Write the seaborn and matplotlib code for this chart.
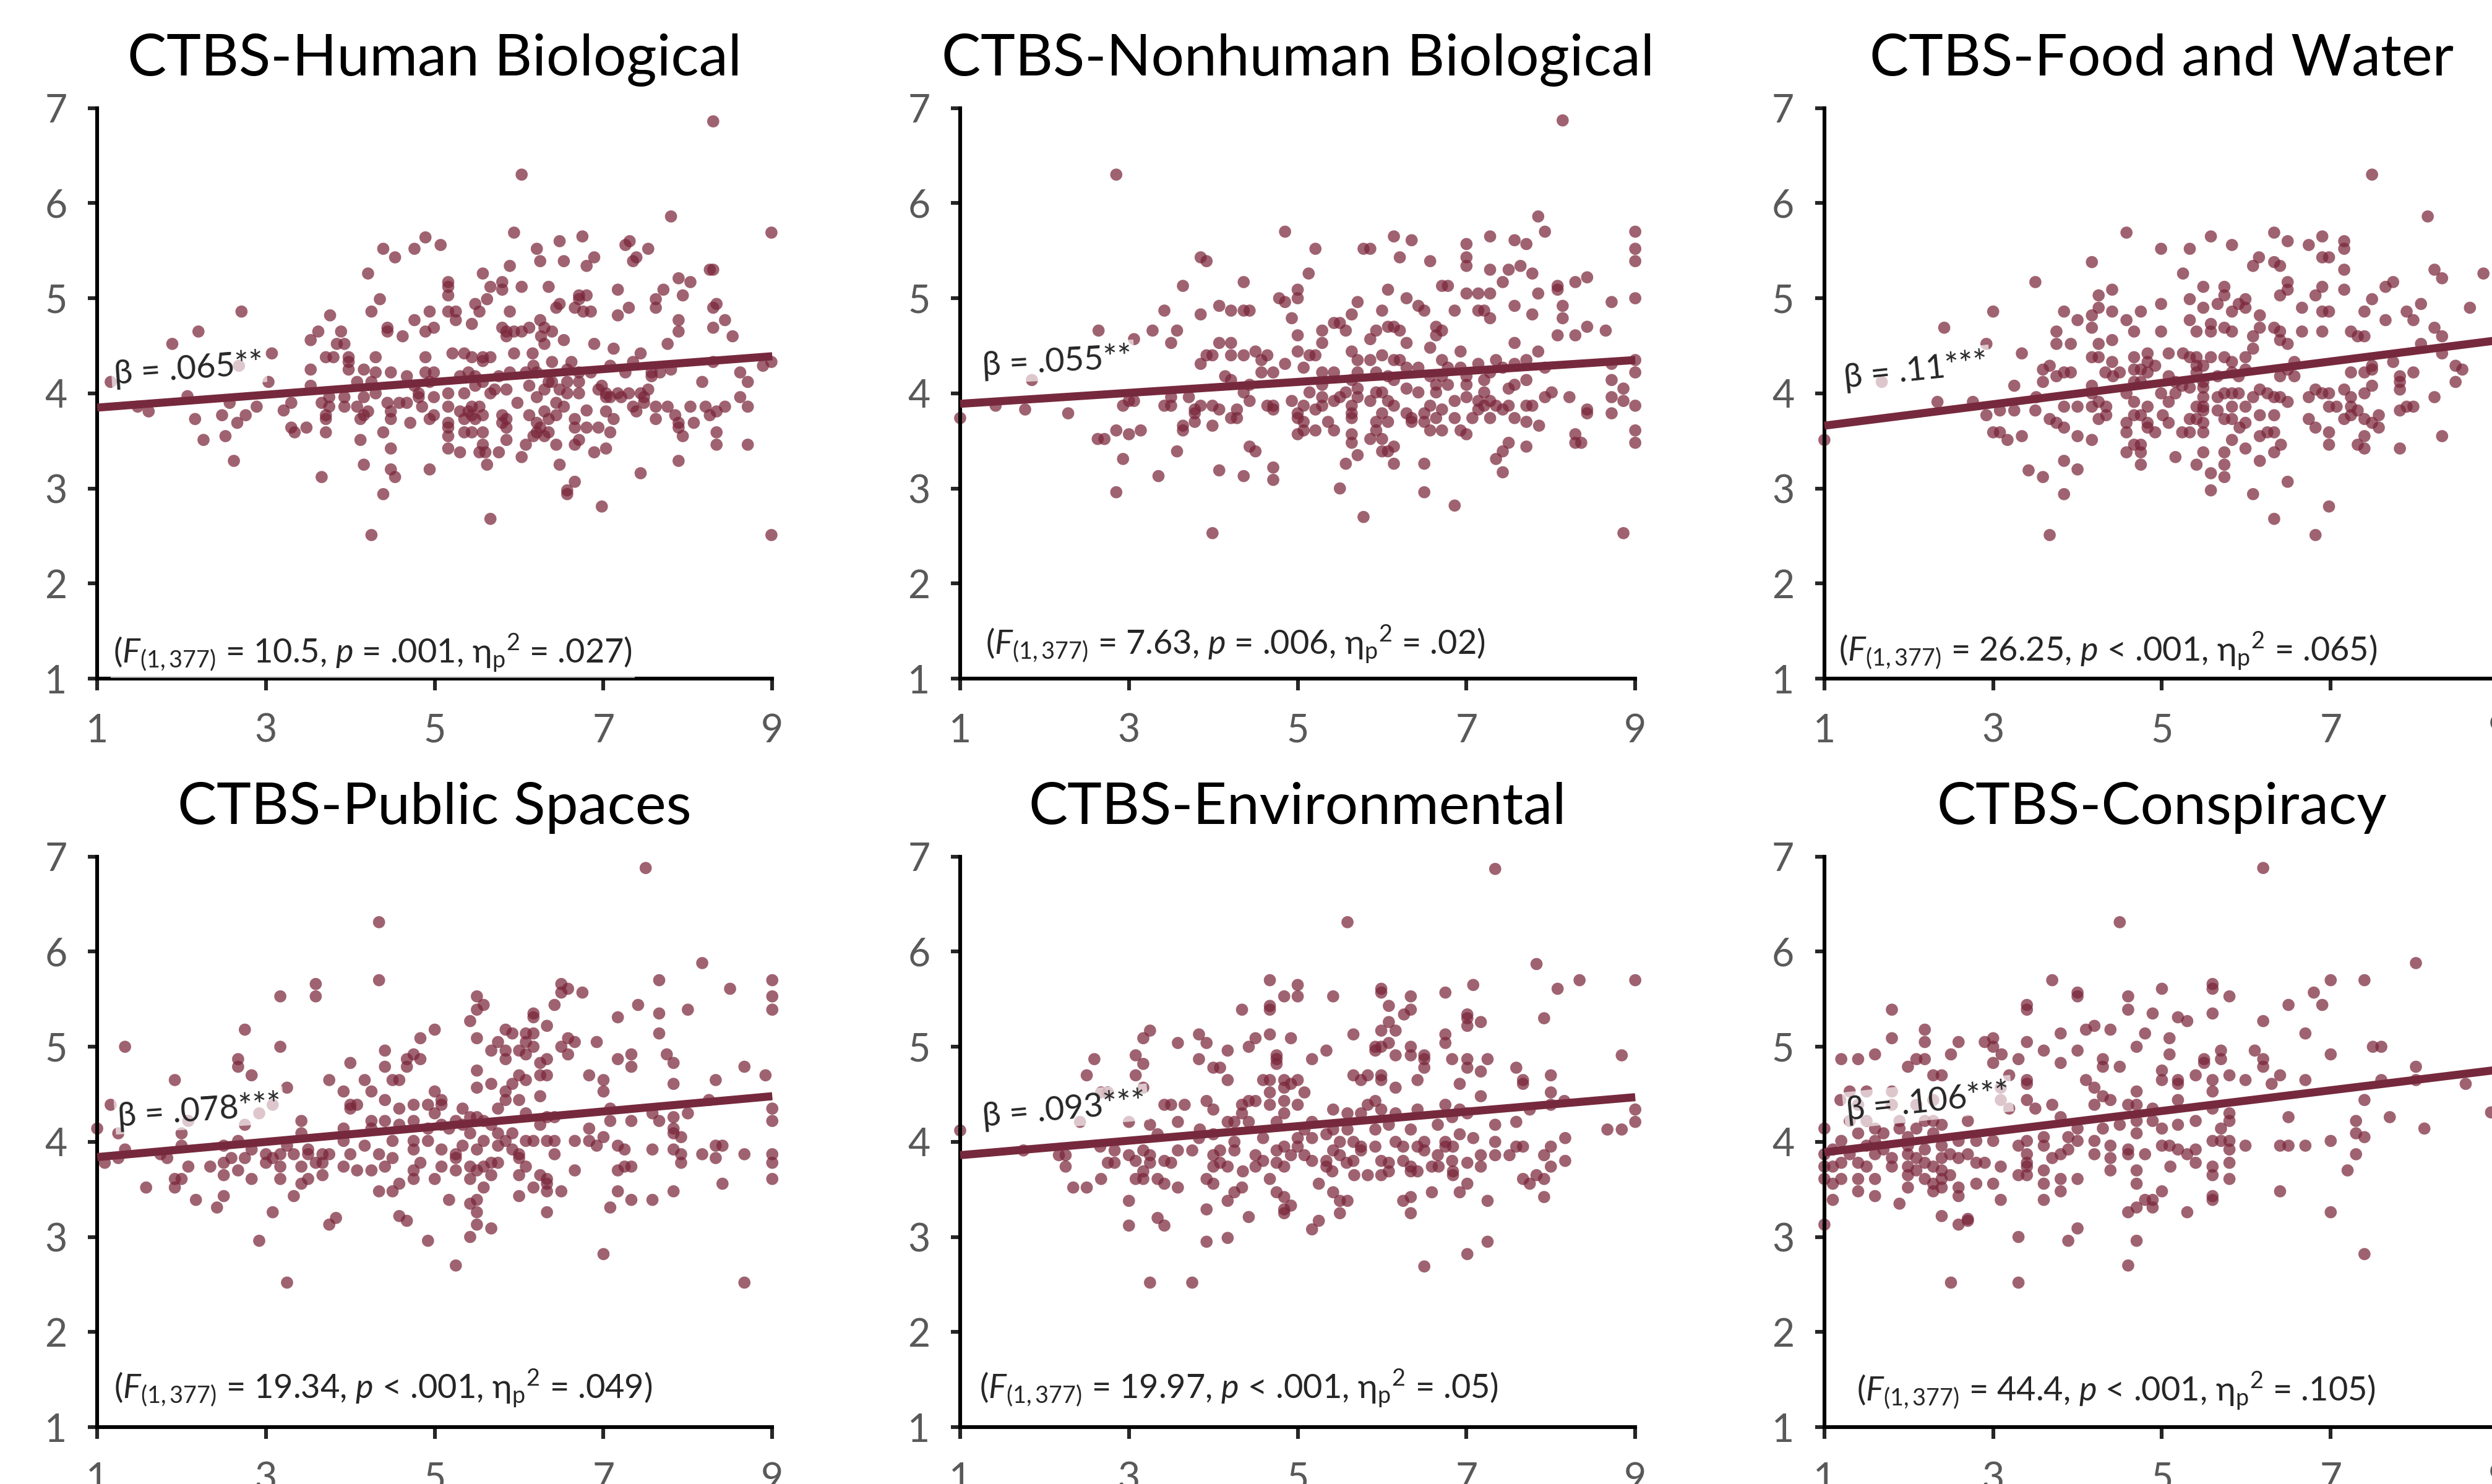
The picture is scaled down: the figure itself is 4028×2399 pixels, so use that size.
import pandas as pd
import numpy as np
import matplotlib.pyplot as plt
import seaborn as sns

# titles, annotations and fitted lines (y at x=1 and x=9)
titles = ["CTBS-Human Biological", "CTBS-Nonhuman Biological", "CTBS-Food and Water",
          "CTBS-Public Spaces", "CTBS-Environmental", "CTBS-Conspiracy"]
betas = ["β = .065**", "β = .055**", "β = .11***", "β = .078***", "β = .093***", "β = .106***"]
stats = [
    r"($F_{\mathregular{(1,377)}}$ = 10.5, $p$ = .001, η$_\mathregular{p}$$^\mathregular{2}$ = .027)",
    r"($F_{\mathregular{(1,377)}}$ = 7.63, $p$ = .006, η$_\mathregular{p}$$^\mathregular{2}$ = .02)",
    r"($F_{\mathregular{(1,377)}}$ = 26.25, $p$ < .001, η$_\mathregular{p}$$^\mathregular{2}$ = .065)",
    r"($F_{\mathregular{(1,377)}}$ = 19.34, $p$ < .001, η$_\mathregular{p}$$^\mathregular{2}$ = .049)",
    r"($F_{\mathregular{(1,377)}}$ = 19.97, $p$ < .001, η$_\mathregular{p}$$^\mathregular{2}$ = .05)",
    r"($F_{\mathregular{(1,377)}}$ = 44.4, $p$ < .001, η$_\mathregular{p}$$^\mathregular{2}$ = .105)",
]
line_y1 = [3.85, 3.89, 3.66, 3.84, 3.86, 3.89]
line_y9 = [4.39, 4.35, 4.56, 4.48, 4.47, 4.76]

# scatter points (x, y)
human_bio = [
    (8.30, 6.86), (6.03, 6.30), (7.80, 5.86), (8.99, 5.69), (5.94, 5.69), (4.89, 5.64), (5.07, 5.56),
    (4.76, 5.52), (4.39, 5.52), (4.53, 5.43), (6.48, 5.60), (6.75, 5.65), (6.21, 5.52), (6.25, 5.39),
    (6.53, 5.39), (6.89, 5.43), (6.80, 5.34), (5.89, 5.34), (7.26, 5.56), (7.31, 5.60), (7.39, 5.43),
    (7.35, 5.39), (7.53, 5.52), (8.26, 5.30), (8.30, 5.30), (4.21, 5.26), (5.57, 5.26), (7.89, 5.21),
    (8.03, 5.17), (5.16, 5.17), (5.16, 5.12), (5.16, 5.03), (5.80, 5.17), (5.80, 5.09), (5.66, 5.12),
    (6.03, 5.12), (6.35, 5.12), (7.17, 5.09), (7.71, 5.09), (7.94, 5.03), (7.62, 4.99), (6.71, 5.03),
    (6.80, 5.03), (6.71, 4.99), (4.35, 4.99), (5.62, 4.99), (5.48, 4.94), (6.48, 4.94), (6.44, 4.90),
    (6.66, 4.90), (7.30, 4.90), (7.62, 4.90), (8.34, 4.94), (8.30, 4.90), (2.71, 4.86), (4.25, 4.86),
    (4.94, 4.86), (5.16, 4.86), (5.25, 4.86), (5.53, 4.86), (5.89, 4.86), (6.76, 4.86), (6.85, 4.86),
    (7.17, 4.82), (3.76, 4.82), (4.76, 4.77), (5.25, 4.77), (6.25, 4.77), (7.89, 4.77), (8.44, 4.77),
    (5.44, 4.73), (5.80, 4.69), (6.12, 4.69), (8.30, 4.69), (4.44, 4.69), (4.99, 4.69), (2.20, 4.65),
    (3.62, 4.65), (3.89, 4.65), (4.44, 4.65), (4.89, 4.65), (5.85, 4.65), (5.94, 4.65), (6.03, 4.65),
    (6.30, 4.69), (6.39, 4.65), (7.89, 4.65), (4.62, 4.60), (5.85, 4.60), (6.26, 4.60), (8.53, 4.60),
    (1.89, 4.52), (3.53, 4.56), (3.84, 4.52), (3.93, 4.52), (6.30, 4.52), (6.53, 4.56), (6.89, 4.52),
    (7.76, 4.52), (7.12, 4.47), (3.07, 4.42), (3.71, 4.38), (3.80, 4.38), (3.98, 4.38), (4.30, 4.38),
    (4.89, 4.38), (5.21, 4.42), (5.35, 4.42), (5.44, 4.38), (5.57, 4.38), (5.66, 4.38), (5.57, 4.34),
    (5.94, 4.42), (6.16, 4.42), (7.44, 4.42), (3.98, 4.33), (3.98, 4.25), (6.17, 4.29), (6.39, 4.33),
    (6.62, 4.33), (7.35, 4.33), (8.30, 4.33), (8.99, 4.33), (8.89, 4.29), (2.68, 4.29), (3.53, 4.25),
    (4.16, 4.25), (7.08, 4.29), (7.80, 4.25), (7.57, 4.22), (7.67, 4.22), (4.30, 4.22), (4.48, 4.22),
    (4.67, 4.18), (4.89, 4.22), (4.99, 4.22), (5.30, 4.18), (5.40, 4.22), (5.48, 4.18), (5.76, 4.18),
    (5.89, 4.22), (6.08, 4.22), (6.21, 4.22), (6.57, 4.25), (6.71, 4.22), (6.85, 4.22), (7.26, 4.22),
    (8.62, 4.22), (1.16, 4.12), (3.03, 4.12), (4.08, 4.12), (4.25, 4.12), (4.94, 4.12), (5.57, 4.12),
    (6.35, 4.12), (6.39, 4.12), (6.57, 4.12), (6.71, 4.12), (7.57, 4.18), (8.17, 4.12), (8.71, 4.12),
    (3.53, 4.08), (4.76, 4.08), (5.48, 4.08), (6.12, 4.08), (6.98, 4.08), (6.30, 4.04), (6.48, 4.04),
    (6.94, 4.04), (7.53, 4.04), (7.44, 4.00), (5.71, 4.04), (5.85, 4.04), (5.16, 4.00), (5.35, 4.00),
    (5.66, 4.00), (4.30, 4.00), (4.81, 4.00), (2.07, 3.97), (6.57, 4.00), (6.71, 4.00), (7.03, 4.00),
    (7.08, 3.96), (7.17, 4.00), (7.21, 3.96), (7.30, 4.00), (7.48, 3.96), (8.62, 3.96), (3.75, 3.96),
    (3.93, 3.96), (4.16, 3.96), (4.81, 3.96), (4.99, 3.96), (6.21, 3.96), (7.03, 3.96), (1.48, 3.86),
    (1.61, 3.81), (2.57, 3.90), (2.89, 3.86), (3.30, 3.90), (3.21, 3.82), (3.66, 3.90), (3.75, 3.86),
    (3.93, 3.86), (4.08, 3.86), (4.44, 3.90), (4.58, 3.90), (4.67, 3.90), (4.85, 3.86), (5.16, 3.86),
    (5.44, 3.86), (5.53, 3.86), (5.98, 3.90), (6.44, 3.90), (6.53, 3.86), (6.80, 3.82), (7.35, 3.86),
    (7.48, 3.90), (7.62, 3.86), (7.76, 3.86), (8.03, 3.86), (8.21, 3.86), (8.34, 3.81), (8.44, 3.86),
    (8.71, 3.86), (4.21, 3.81), (4.48, 3.81), (5.30, 3.81), (5.40, 3.81), (7.03, 3.81), (7.39, 3.81),
    (6.30, 3.81), (2.76, 3.77), (2.48, 3.77), (3.71, 3.77), (4.16, 3.77), (4.99, 3.77), (5.44, 3.77),
    (5.57, 3.77), (5.80, 3.77), (6.12, 3.77), (6.44, 3.77), (7.85, 3.77), (8.26, 3.77), (2.16, 3.73),
    (3.71, 3.73), (4.12, 3.73), (4.48, 3.73), (4.94, 3.73), (5.35, 3.73), (5.48, 3.73), (5.85, 3.73),
    (6.35, 3.73), (6.66, 3.73), (7.12, 3.73), (7.62, 3.73), (2.66, 3.69), (4.71, 3.69), (5.16, 3.69),
    (5.80, 3.69), (6.21, 3.69), (7.89, 3.69), (8.07, 3.69), (3.30, 3.64), (3.48, 3.64), (5.16, 3.64),
    (5.85, 3.64), (6.25, 3.64), (6.66, 3.64), (6.80, 3.64), (6.94, 3.64), (7.89, 3.64), (3.34, 3.59),
    (3.71, 3.59), (4.39, 3.59), (5.35, 3.59), (5.44, 3.59), (5.57, 3.59), (6.21, 3.59), (6.35, 3.59),
    (7.08, 3.59), (8.34, 3.59), (5.16, 3.55), (6.17, 3.55), (6.30, 3.55), (2.52, 3.55), (7.94, 3.55),
    (2.26, 3.51), (4.12, 3.51), (5.85, 3.51), (6.71, 3.51), (6.66, 3.46), (6.44, 3.46), (5.57, 3.46),
    (6.08, 3.46), (8.34, 3.46), (8.71, 3.46), (4.48, 3.42), (5.16, 3.42), (5.30, 3.38), (5.53, 3.38),
    (5.60, 3.38), (5.76, 3.38), (6.89, 3.38), (7.03, 3.42), (6.03, 3.33), (2.62, 3.29), (7.89, 3.29),
    (4.16, 3.25), (5.62, 3.25), (6.48, 3.25), (4.48, 3.20), (4.94, 3.20), (7.44, 3.16), (3.66, 3.12),
    (4.53, 3.12), (6.66, 3.07), (6.57, 2.98), (6.57, 2.94), (4.39, 2.94), (6.98, 2.81), (5.66, 2.68),
    (4.25, 2.51), (8.99, 2.51),
]

nonhuman_bio = [
    (8.14, 6.87), (2.85, 6.30), (7.85, 5.86), (4.85, 5.70), (9.00, 5.70), (7.93, 5.70), (6.14, 5.65),
    (7.28, 5.65), (7.57, 5.61), (6.35, 5.61), (7.00, 5.57), (7.71, 5.57), (5.78, 5.52), (5.86, 5.52),
    (5.21, 5.52), (9.00, 5.52), (3.85, 5.43), (3.92, 5.39), (6.21, 5.43), (7.00, 5.43), (7.00, 5.34),
    (6.57, 5.39), (9.00, 5.39), (7.64, 5.34), (7.28, 5.30), (7.50, 5.30), (5.13, 5.26), (7.78, 5.26),
    (7.43, 5.17), (4.36, 5.17), (8.29, 5.17), (8.43, 5.22), (3.64, 5.13), (6.71, 5.13), (6.78, 5.13),
    (8.08, 5.13), (8.08, 5.09), (5.00, 5.09), (6.07, 5.09), (7.00, 5.05), (7.14, 5.05), (7.28, 5.05),
    (7.85, 5.05), (4.78, 5.00), (5.00, 5.00), (6.29, 5.00), (9.00, 5.00), (4.85, 4.96), (8.72, 4.96),
    (5.71, 4.96), (4.07, 4.92), (6.43, 4.92), (7.57, 4.92), (8.14, 4.92), (3.42, 4.87), (4.21, 4.87),
    (4.36, 4.87), (4.43, 4.87), (6.00, 4.87), (6.50, 4.87), (6.86, 4.87), (7.14, 4.87), (7.21, 4.87),
    (3.85, 4.83), (5.64, 4.83), (7.78, 4.83), (4.93, 4.79), (7.28, 4.79), (8.14, 4.79), (5.43, 4.74),
    (5.50, 4.74), (6.07, 4.70), (6.14, 4.70), (6.64, 4.70), (8.43, 4.70), (2.64, 4.66), (3.28, 4.66),
    (3.57, 4.66), (5.29, 4.66), (5.57, 4.66), (5.93, 4.66), (6.21, 4.66), (6.71, 4.66), (8.65, 4.66),
    (6.64, 4.61), (8.08, 4.61), (8.29, 4.61), (5.00, 4.61), (5.86, 4.57), (3.06, 4.57), (4.07, 4.53),
    (4.21, 4.53), (5.29, 4.53), (3.50, 4.53), (6.29, 4.53), (7.57, 4.53), (6.57, 4.48), (4.50, 4.44),
    (5.00, 4.44), (5.64, 4.44), (6.93, 4.44), (7.85, 4.44), (3.92, 4.40), (3.99, 4.40), (4.21, 4.40),
    (4.36, 4.40), (5.14, 4.40), (5.21, 4.40), (6.00, 4.40), (4.64, 4.40), (5.71, 4.35), (5.86, 4.35),
    (6.14, 4.35), (6.21, 4.35), (6.71, 4.35), (7.14, 4.31), (7.35, 4.35), (7.57, 4.31), (7.71, 4.35),
    (8.72, 4.31), (9.00, 4.35), (3.85, 4.31), (4.57, 4.35), (4.85, 4.31), (5.07, 4.27), (6.29, 4.27),
    (6.43, 4.27), (6.78, 4.27), (6.93, 4.27), (7.28, 4.22), (7.43, 4.27), (7.93, 4.27), (9.00, 4.22),
    (4.57, 4.22), (4.71, 4.22), (5.29, 4.22), (5.43, 4.22), (5.71, 4.22), (5.93, 4.22), (6.07, 4.18),
    (6.57, 4.18), (6.71, 4.18), (7.00, 4.18), (4.14, 4.18), (7.21, 4.14), (7.71, 4.14), (8.72, 4.14),
    (1.85, 4.14), (4.21, 4.14), (5.64, 4.14), (6.14, 4.14), (6.64, 4.09), (6.78, 4.09), (7.57, 4.09),
    (4.43, 4.09), (5.29, 4.09), (6.29, 4.05), (7.00, 4.09), (8.86, 4.05), (7.50, 4.05), (5.71, 4.05),
    (5.14, 4.01), (5.57, 4.01), (5.93, 4.01), (6.00, 4.01), (6.43, 4.01), (6.64, 4.01), (7.21, 4.01),
    (8.01, 4.01), (4.36, 4.01), (7.93, 3.96), (8.22, 3.96), (8.72, 3.96), (7.00, 3.96), (3.50, 3.96),
    (3.71, 3.96), (5.29, 3.96), (5.50, 3.96), (5.71, 3.96), (3.00, 3.92), (3.06, 3.92), (4.43, 3.92),
    (4.93, 3.92), (5.43, 3.92), (5.86, 3.92), (6.07, 3.92), (6.86, 3.92), (7.14, 3.92), (7.28, 3.92),
    (8.86, 3.92), (1.42, 3.87), (2.93, 3.87), (3.42, 3.87), (3.50, 3.87), (3.85, 3.87), (3.99, 3.87),
    (4.64, 3.87), (4.71, 3.87), (5.07, 3.87), (5.29, 3.87), (5.64, 3.87), (6.14, 3.87), (6.57, 3.87),
    (7.21, 3.87), (7.35, 3.87), (7.50, 3.87), (7.78, 3.87), (7.71, 3.87), (9.00, 3.87), (1.77, 3.83),
    (3.78, 3.83), (4.07, 3.83), (4.28, 3.83), (4.71, 3.83), (5.21, 3.83), (6.71, 3.83), (7.14, 3.83),
    (7.43, 3.83), (8.43, 3.83), (2.28, 3.79), (3.78, 3.79), (5.00, 3.79), (5.64, 3.79), (6.00, 3.79),
    (6.29, 3.79), (6.50, 3.79), (8.43, 3.79), (8.72, 3.79), (1.00, 3.74), (4.21, 3.74), (4.28, 3.74),
    (5.00, 3.74), (5.64, 3.74), (6.35, 3.74), (6.64, 3.74), (6.86, 3.74), (7.07, 3.74), (7.28, 3.74),
    (7.57, 3.74), (5.07, 3.70), (5.93, 3.70), (6.07, 3.70), (6.35, 3.70), (6.50, 3.70), (7.71, 3.70),
    (3.78, 3.70), (5.36, 3.70), (3.64, 3.66), (3.99, 3.66), (7.86, 3.66), (5.43, 3.61), (5.21, 3.61),
    (5.07, 3.61), (5.93, 3.61), (6.57, 3.61), (6.71, 3.61), (6.93, 3.61), (9.00, 3.61), (2.85, 3.61),
    (3.14, 3.61), (3.64, 3.61), (3.00, 3.57), (5.00, 3.57), (5.64, 3.57), (7.00, 3.57), (8.29, 3.57),
    (2.63, 3.52), (2.71, 3.52), (6.00, 3.52), (5.86, 3.52), (7.50, 3.48), (8.29, 3.48), (8.36, 3.48),
    (9.00, 3.48), (5.64, 3.48), (4.43, 3.44), (7.71, 3.44), (4.50, 3.39), (3.57, 3.39), (6.00, 3.39),
    (6.07, 3.39), (7.43, 3.39), (6.14, 3.44), (5.71, 3.35), (2.93, 3.31), (7.35, 3.31), (5.57, 3.26),
    (6.14, 3.26), (6.50, 3.26), (4.71, 3.22), (4.07, 3.19), (7.43, 3.17), (3.35, 3.13), (4.36, 3.13),
    (4.71, 3.09), (5.50, 3.00), (2.85, 2.96), (6.50, 2.96), (6.86, 2.82), (5.78, 2.70), (3.99, 2.53),
    (8.86, 2.53),
]

food_water = [
    (7.49, 6.30), (8.15, 5.86), (4.58, 5.69), (5.58, 5.65), (6.33, 5.69), (6.90, 5.65), (7.16, 5.60),
    (6.49, 5.60), (4.99, 5.52), (5.33, 5.52), (5.83, 5.56), (6.74, 5.56), (7.16, 5.52), (6.15, 5.43),
    (6.90, 5.43), (6.98, 5.43), (4.17, 5.38), (6.33, 5.38), (6.08, 5.34), (6.40, 5.34), (7.16, 5.30),
    (8.23, 5.30), (5.25, 5.26), (8.32, 5.21), (8.81, 5.26), (3.50, 5.17), (6.49, 5.17), (7.74, 5.17),
    (7.65, 5.12), (5.49, 5.12), (5.74, 5.12), (6.90, 5.12), (4.41, 5.09), (6.49, 5.09), (7.16, 5.09),
    (4.25, 5.03), (5.74, 5.03), (6.40, 5.03), (6.82, 5.03), (5.33, 4.99), (5.99, 4.99), (7.49, 4.99),
    (4.99, 4.94), (5.66, 4.94), (5.91, 4.94), (4.25, 4.90), (5.49, 4.90), (5.99, 4.90), (6.66, 4.90),
    (8.65, 4.90), (8.07, 4.94), (3.00, 4.86), (3.84, 4.86), (4.41, 4.86), (4.75, 4.86), (5.83, 4.86),
    (6.90, 4.86), (6.98, 4.86), (7.40, 4.86), (7.90, 4.86), (4.17, 4.82), (6.16, 4.82), (4.00, 4.77),
    (4.58, 4.77), (5.33, 4.77), (7.65, 4.77), (7.98, 4.77), (5.58, 4.73), (2.42, 4.69), (4.17, 4.69),
    (5.74, 4.69), (6.33, 4.69), (6.16, 4.69), (8.23, 4.69), (3.75, 4.65), (4.67, 4.65), (4.99, 4.65),
    (5.41, 4.65), (5.58, 4.65), (5.83, 4.65), (6.40, 4.65), (6.66, 4.65), (6.90, 4.65), (7.24, 4.65),
    (6.08, 4.60), (7.32, 4.60), (7.40, 4.60), (8.32, 4.60), (4.41, 4.56), (6.40, 4.56), (2.92, 4.52),
    (3.75, 4.52), (3.92, 4.52), (4.25, 4.52), (6.49, 4.52), (8.07, 4.52), (6.08, 4.47), (3.34, 4.42),
    (4.83, 4.42), (5.08, 4.42), (5.25, 4.42), (5.33, 4.38), (5.41, 4.38), (4.17, 4.38), (4.25, 4.38),
    (4.67, 4.38), (5.58, 4.38), (5.74, 4.38), (5.99, 4.38), (8.32, 4.42), (4.83, 4.33), (5.83, 4.33),
    (6.57, 4.33), (7.74, 4.33), (3.67, 4.29), (4.41, 4.33), (4.92, 4.29), (5.41, 4.29), (5.49, 4.29),
    (7.49, 4.29), (8.48, 4.29), (3.59, 4.25), (4.67, 4.25), (4.75, 4.25), (5.99, 4.25), (6.49, 4.25),
    (7.49, 4.25), (8.56, 4.25), (3.84, 4.22), (3.92, 4.22), (4.33, 4.22), (4.50, 4.22), (4.83, 4.22),
    (5.41, 4.22), (5.83, 4.22), (7.24, 4.22), (7.40, 4.22), (7.98, 4.22), (3.75, 4.18), (4.42, 4.18),
    (5.08, 4.18), (5.66, 4.18), (5.91, 4.18), (6.40, 4.18), (6.57, 4.18), (7.82, 4.18), (3.59, 4.12),
    (4.67, 4.12), (4.75, 4.12), (5.16, 4.12), (5.49, 4.12), (7.49, 4.08), (8.48, 4.12), (7.82, 4.12),
    (3.25, 4.08), (4.17, 4.08), (5.24, 4.08), (5.33, 4.06), (5.49, 4.06), (6.16, 4.04), (7.16, 4.04),
    (7.82, 4.04), (6.82, 4.04), (4.17, 4.00), (4.58, 4.00), (4.99, 4.00), (5.16, 4.00), (5.74, 4.00),
    (5.83, 4.00), (5.91, 4.00), (6.25, 4.00), (6.90, 4.00), (6.98, 4.00), (7.40, 4.00), (3.51, 3.96),
    (7.24, 3.96), (8.23, 3.96), (6.74, 3.96), (6.08, 3.96), (5.49, 3.96), (5.66, 3.96), (6.33, 3.96),
    (6.40, 3.96), (2.34, 3.91), (2.76, 3.91), (4.25, 3.91), (4.67, 3.91), (5.08, 3.91), (6.49, 3.91),
    (3.84, 3.86), (4.00, 3.86), (4.17, 3.86), (4.34, 3.86), (4.83, 3.86), (5.41, 3.86), (5.49, 3.86),
    (5.83, 3.86), (5.99, 3.86), (6.98, 3.86), (7.07, 3.86), (7.24, 3.86), (7.90, 3.86), (7.98, 3.86),
    (3.08, 3.82), (3.25, 3.82), (3.50, 3.82), (7.82, 3.82), (7.32, 3.82), (5.49, 3.82), (5.66, 3.82),
    (2.92, 3.77), (4.34, 3.77), (4.67, 3.77), (4.75, 3.77), (5.01, 3.77), (6.16, 3.77), (6.33, 3.77),
    (7.24, 3.77), (7.57, 3.77), (4.25, 3.73), (3.67, 3.73), (5.33, 3.73), (5.41, 3.73), (5.74, 3.73),
    (5.83, 3.73), (6.74, 3.73), (7.16, 3.73), (7.40, 3.73), (4.58, 3.69), (4.83, 3.69), (5.08, 3.69),
    (5.49, 3.69), (5.99, 3.69), (7.49, 3.69), (3.75, 3.69), (3.84, 3.64), (4.83, 3.64), (5.92, 3.64),
    (6.82, 3.64), (7.57, 3.64), (3.00, 3.59), (3.08, 3.59), (4.58, 3.59), (4.92, 3.59), (5.24, 3.59),
    (5.33, 3.59), (5.49, 3.59), (6.25, 3.59), (6.33, 3.59), (6.98, 3.59), (3.34, 3.55), (4.00, 3.55),
    (6.16, 3.55), (7.40, 3.55), (8.32, 3.55), (3.17, 3.51), (4.17, 3.51), (5.83, 3.51), (4.67, 3.46),
    (4.75, 3.46), (6.41, 3.46), (6.98, 3.46), (7.32, 3.46), (7.40, 3.42), (7.82, 3.42), (5.99, 3.42),
    (4.58, 3.38), (4.75, 3.38), (5.49, 3.38), (5.74, 3.38), (6.33, 3.38), (5.16, 3.33), (3.84, 3.29),
    (6.16, 3.29), (5.41, 3.25), (5.74, 3.25), (4.75, 3.25), (3.42, 3.19), (4.00, 3.20), (5.58, 3.16),
    (3.59, 3.12), (5.74, 3.12), (6.49, 3.07), (5.58, 2.98), (3.84, 2.94), (6.08, 2.94), (6.98, 2.81),
    (6.33, 2.68), (3.67, 2.51), (6.82, 2.51), (1.00, 3.51), (1.68, 4.12), (9.00, 4.10),
]

public_spaces = [
    (7.50, 6.88), (4.34, 6.31), (8.17, 5.88), (4.34, 5.70), (7.66, 5.70), (9.00, 5.70), (3.59, 5.66),
    (6.50, 5.66), (8.50, 5.61), (6.58, 5.61), (6.75, 5.57), (6.50, 5.57), (3.17, 5.53), (3.59, 5.53),
    (5.50, 5.53), (9.00, 5.53), (7.41, 5.44), (5.58, 5.44), (6.42, 5.44), (5.50, 5.39), (8.00, 5.39),
    (9.00, 5.39), (6.17, 5.35), (6.17, 5.31), (7.66, 5.35), (7.17, 5.31), (5.42, 5.27), (6.33, 5.22),
    (5.00, 5.18), (2.75, 5.18), (5.84, 5.18), (5.92, 5.14), (6.08, 5.14), (6.17, 5.14), (7.66, 5.14),
    (4.83, 5.09), (5.50, 5.09), (6.58, 5.09), (6.08, 5.05), (5.75, 5.05), (6.66, 5.05), (6.92, 5.05),
    (1.33, 5.00), (3.17, 5.00), (6.17, 5.00), (6.50, 5.00), (4.41, 4.96), (5.67, 4.96), (5.84, 4.96),
    (6.00, 4.96), (7.75, 4.92), (6.08, 4.92), (7.33, 4.92), (6.58, 4.92), (4.75, 4.92), (4.67, 4.87),
    (4.83, 4.87), (2.67, 4.87), (5.84, 4.87), (6.33, 4.87), (7.17, 4.87), (4.00, 4.83), (6.25, 4.83),
    (7.83, 4.83), (2.67, 4.79), (4.41, 4.79), (4.67, 4.79), (7.33, 4.79), (8.67, 4.79), (5.50, 4.75),
    (2.83, 4.70), (6.00, 4.70), (6.25, 4.70), (6.33, 4.70), (6.83, 4.70), (8.92, 4.70), (1.92, 4.65),
    (3.75, 4.65), (4.17, 4.65), (4.50, 4.65), (4.58, 4.65), (6.08, 4.65), (7.00, 4.65), (8.33, 4.65),
    (7.83, 4.61), (5.67, 4.61), (5.92, 4.61), (3.25, 4.57), (3.92, 4.53), (4.25, 4.53), (5.00, 4.53),
    (5.84, 4.53), (7.00, 4.53), (6.25, 4.48), (4.41, 4.44), (5.08, 4.44), (6.00, 4.44), (5.50, 4.57),
    (1.16, 4.39), (3.08, 4.39), (4.00, 4.39), (4.08, 4.39), (4.75, 4.39), (4.92, 4.39), (5.08, 4.39),
    (5.84, 4.44), (8.25, 4.44), (4.00, 4.35), (4.58, 4.35), (5.33, 4.35), (5.75, 4.35), (9.00, 4.35),
    (7.08, 4.35), (8.00, 4.30), (7.58, 4.30), (2.92, 4.30), (5.00, 4.30), (6.08, 4.30), (6.33, 4.26),
    (6.42, 4.26), (7.83, 4.26), (5.42, 4.26), (5.50, 4.26), (4.41, 4.22), (4.25, 4.22), (4.75, 4.22),
    (5.25, 4.22), (5.58, 4.22), (7.08, 4.22), (7.33, 4.22), (7.66, 4.22), (9.00, 4.22), (3.42, 4.22),
    (2.08, 4.22), (2.75, 4.18), (6.25, 4.18), (4.58, 4.18), (5.08, 4.18), (5.33, 4.18), (5.67, 4.18),
    (1.00, 4.14), (3.92, 4.14), (4.25, 4.14), (4.92, 4.14), (5.17, 4.14), (6.83, 4.14), (7.83, 4.14),
    (2.00, 4.09), (1.25, 4.09), (3.42, 4.09), (5.42, 4.09), (5.75, 4.09), (5.92, 4.09), (7.83, 4.09),
    (7.92, 4.05), (7.00, 4.05), (4.75, 4.01), (3.92, 4.01), (4.50, 4.01), (4.92, 4.01), (5.58, 4.01),
    (5.84, 4.01), (6.08, 4.01), (6.17, 4.01), (6.33, 4.01), (6.42, 4.01), (6.66, 4.01), (6.83, 4.01),
    (2.67, 4.01), (6.92, 3.96), (7.17, 3.96), (8.33, 3.96), (8.41, 3.96), (2.00, 3.96), (2.50, 3.96),
    (3.25, 3.96), (4.17, 3.96), (5.33, 3.96), (5.75, 3.96), (1.33, 3.92), (2.83, 3.92), (3.50, 3.92),
    (4.75, 3.92), (5.08, 3.92), (5.50, 3.92), (5.92, 3.92), (7.25, 3.92), (7.58, 3.92), (7.83, 3.92),
    (1.75, 3.87), (3.00, 3.87), (3.17, 3.87), (3.33, 3.87), (3.50, 3.87), (3.67, 3.87), (3.75, 3.87),
    (4.00, 3.87), (4.34, 3.87), (5.25, 3.87), (6.00, 3.87), (6.42, 3.87), (8.17, 3.87), (8.67, 3.87),
    (9.00, 3.87), (7.92, 3.87), (1.09, 3.78), (1.25, 3.83), (1.83, 3.83), (2.59, 3.83), (2.75, 3.83),
    (3.08, 3.83), (4.50, 3.83), (5.25, 3.83), (6.00, 3.83), (8.33, 3.83), (7.33, 3.74), (7.17, 3.70),
    (7.25, 3.74), (2.50, 3.78), (3.00, 3.78), (3.59, 3.78), (3.67, 3.78), (4.83, 3.78), (5.75, 3.78),
    (5.67, 3.78), (7.92, 3.78), (9.00, 3.78), (2.08, 3.74), (2.34, 3.74), (3.17, 3.74), (3.42, 3.74),
    (3.92, 3.74), (4.41, 3.74), (5.08, 3.74), (5.42, 3.74), (5.58, 3.74), (6.08, 3.74), (2.67, 3.70),
    (4.08, 3.70), (4.25, 3.70), (4.75, 3.70), (5.25, 3.70), (5.50, 3.70), (6.66, 3.70), (2.50, 3.65),
    (3.67, 3.65), (5.67, 3.65), (6.00, 3.65), (6.25, 3.65), (2.83, 3.61), (3.17, 3.61), (3.50, 3.61),
    (1.92, 3.61), (2.00, 3.61), (4.75, 3.61), (5.00, 3.61), (5.42, 3.61), (6.33, 3.61), (9.00, 3.61),
    (3.42, 3.56), (4.58, 3.56), (6.33, 3.56), (8.41, 3.56), (5.58, 3.52), (1.58, 3.52), (1.92, 3.52),
    (6.17, 3.52), (4.34, 3.48), (4.50, 3.48), (6.33, 3.48), (6.50, 3.48), (7.17, 3.48), (7.83, 3.48),
    (3.33, 3.43), (6.00, 3.43), (2.50, 3.43), (2.17, 3.39), (5.17, 3.39), (5.50, 3.39), (7.33, 3.39),
    (7.58, 3.39), (5.42, 3.35), (2.42, 3.31), (7.08, 3.31), (3.08, 3.26), (5.50, 3.26), (6.33, 3.26),
    (4.58, 3.22), (3.83, 3.20), (4.67, 3.17), (3.75, 3.13), (5.50, 3.13), (5.67, 3.09), (5.42, 3.00),
    (2.92, 2.96), (4.92, 2.96), (7.00, 2.82), (5.25, 2.70), (3.25, 2.52), (8.67, 2.52),
]

environmental = [
    (7.34, 6.87), (5.59, 6.31), (7.83, 5.87), (4.67, 5.70), (8.34, 5.70), (9.00, 5.70), (5.00, 5.65),
    (7.08, 5.65), (8.08, 5.61), (5.99, 5.61), (4.84, 5.53), (5.00, 5.53), (5.42, 5.53), (6.34, 5.53),
    (6.75, 5.57), (5.99, 5.57), (4.67, 5.43), (4.67, 5.39), (4.34, 5.39), (6.08, 5.43), (6.34, 5.39),
    (6.26, 5.34), (7.01, 5.34), (7.01, 5.30), (7.92, 5.30), (7.17, 5.26), (6.08, 5.26), (7.01, 5.22),
    (3.25, 5.17), (6.16, 5.17), (5.99, 5.17), (3.17, 5.09), (3.83, 5.13), (4.67, 5.13), (5.66, 5.13),
    (6.75, 5.13), (4.92, 5.09), (4.50, 5.09), (3.58, 5.04), (3.92, 5.04), (6.08, 5.04), (6.75, 5.04),
    (4.42, 5.00), (5.92, 5.00), (5.99, 5.00), (6.34, 5.00), (4.17, 4.96), (5.34, 4.96), (5.92, 4.96),
    (3.08, 4.91), (4.75, 4.91), (6.16, 4.91), (6.34, 4.91), (6.50, 4.91), (8.84, 4.91), (2.59, 4.87),
    (3.83, 4.87), (4.75, 4.87), (5.17, 4.87), (6.83, 4.87), (7.01, 4.87), (7.25, 4.87), (3.17, 4.82),
    (4.75, 4.82), (6.50, 4.87), (4.00, 4.78), (4.08, 4.78), (6.50, 4.78), (7.01, 4.78), (7.59, 4.78),
    (7.17, 4.74), (2.50, 4.70), (3.08, 4.70), (5.66, 4.70), (5.83, 4.70), (5.99, 4.70), (8.00, 4.70),
    (4.17, 4.65), (4.59, 4.65), (4.67, 4.65), (4.84, 4.65), (5.00, 4.65), (5.99, 4.65), (5.75, 4.65),
    (6.42, 4.65), (7.67, 4.65), (7.67, 4.61), (6.92, 4.61), (4.92, 4.61), (4.84, 4.57), (6.16, 4.57),
    (2.67, 4.52), (2.75, 4.52), (4.67, 4.52), (5.08, 4.52), (8.00, 4.52), (3.17, 4.57), (7.17, 4.48),
    (3.92, 4.43), (4.42, 4.43), (4.50, 4.43), (4.84, 4.43), (5.92, 4.43), (8.16, 4.43), (3.42, 4.39),
    (3.50, 4.39), (3.66, 4.39), (4.34, 4.39), (4.67, 4.39), (5.00, 4.39), (5.83, 4.39), (6.75, 4.39),
    (8.00, 4.39), (4.00, 4.34), (5.42, 4.34), (5.99, 4.34), (6.42, 4.34), (6.92, 4.34), (7.75, 4.34),
    (9.00, 4.34), (4.34, 4.30), (4.84, 4.30), (5.59, 4.30), (5.75, 4.30), (6.16, 4.30), (7.01, 4.30),
    (6.83, 4.26), (2.42, 4.21), (3.00, 4.21), (3.58, 4.21), (4.17, 4.21), (4.25, 4.21), (4.42, 4.21),
    (4.75, 4.21), (5.17, 4.21), (7.59, 4.21), (9.00, 4.21), (3.25, 4.18), (6.08, 4.18), (6.66, 4.18),
    (7.34, 4.18), (3.84, 4.13), (5.08, 4.13), (5.42, 4.13), (5.59, 4.13), (5.92, 4.13), (6.34, 4.13),
    (8.67, 4.13), (8.84, 4.13), (3.34, 4.08), (4.00, 4.08), (5.34, 4.08), (6.92, 4.08), (4.59, 4.04),
    (5.00, 4.04), (5.17, 4.04), (7.08, 4.04), (8.17, 4.04), (3.83, 4.04), (5.50, 4.00), (5.66, 4.00),
    (6.16, 4.00), (6.75, 4.00), (7.34, 4.00), (6.50, 4.00), (4.25, 4.00), (2.66, 3.95), (4.84, 3.95),
    (5.00, 3.95), (5.75, 3.95), (5.92, 3.95), (6.25, 3.95), (6.42, 3.95), (6.75, 3.95), (6.84, 3.95),
    (7.59, 3.95), (7.67, 3.95), (8.00, 3.95), (1.75, 3.91), (2.83, 3.91), (3.17, 3.91), (3.58, 3.91),
    (3.75, 3.91), (4.08, 3.91), (4.25, 3.91), (4.75, 3.91), (5.42, 3.91), (5.75, 3.91), (6.50, 3.91),
    (2.17, 3.86), (2.25, 3.86), (3.00, 3.86), (3.25, 3.86), (4.00, 3.86), (4.50, 3.86), (4.92, 3.86),
    (5.08, 3.86), (5.50, 3.86), (6.66, 3.86), (7.17, 3.86), (7.34, 3.86), (7.51, 3.86), (7.92, 3.86),
    (3.42, 3.80), (3.08, 3.80), (4.59, 3.80), (5.17, 3.80), (5.34, 3.80), (5.66, 3.80), (5.99, 3.80),
    (6.25, 3.80), (6.83, 3.80), (8.17, 3.80), (2.75, 3.78), (3.50, 3.78), (3.25, 3.78), (4.08, 3.78),
    (4.75, 3.78), (5.58, 3.78), (7.01, 3.78), (6.08, 3.78), (2.25, 3.74), (2.83, 3.78), (4.00, 3.74),
    (4.17, 3.74), (4.50, 3.74), (4.84, 3.74), (5.34, 3.74), (6.34, 3.74), (6.59, 3.74), (6.67, 3.74),
    (7.17, 3.74), (8.00, 3.74), (4.35, 3.69), (5.41, 3.69), (6.08, 3.69), (6.34, 3.69), (6.42, 3.69),
    (6.84, 3.69), (3.17, 3.69), (5.67, 3.65), (5.83, 3.65), (5.99, 3.65), (6.84, 3.65), (7.83, 3.65),
    (2.67, 3.61), (3.08, 3.61), (3.17, 3.61), (3.34, 3.61), (3.92, 3.61), (4.67, 3.61), (7.67, 3.61),
    (7.92, 3.61), (7.01, 3.56), (7.75, 3.56), (3.42, 3.56), (4.00, 3.56), (5.25, 3.56), (2.34, 3.52),
    (2.50, 3.52), (3.58, 3.52), (4.34, 3.52), (4.25, 3.47), (4.75, 3.47), (5.42, 3.47), (6.59, 3.47),
    (6.92, 3.47), (4.84, 3.42), (7.92, 3.42), (6.34, 3.42), (3.00, 3.38), (4.17, 3.38), (5.50, 3.38),
    (5.59, 3.38), (6.25, 3.38), (7.25, 3.38), (4.92, 3.33), (4.84, 3.29), (3.92, 3.29), (4.84, 3.25),
    (5.50, 3.25), (6.34, 3.25), (3.34, 3.20), (4.42, 3.21), (5.25, 3.17), (3.42, 3.12), (3.00, 3.12),
    (5.17, 3.08), (4.17, 2.99), (3.92, 2.95), (7.25, 2.95), (7.01, 2.82), (6.50, 2.69), (3.25, 2.52),
    (3.75, 2.52), (1.00, 4.12),
]

conspiracy = [
    (6.20, 6.88), (4.50, 6.31), (8.01, 5.88), (3.70, 5.70), (7.00, 5.70), (7.40, 5.70), (5.60, 5.66),
    (5.00, 5.61), (5.60, 5.61), (6.80, 5.57), (4.00, 5.57), (4.00, 5.53), (4.60, 5.53), (5.80, 5.53),
    (3.40, 5.44), (6.50, 5.44), (6.90, 5.44), (1.80, 5.39), (3.40, 5.39), (4.60, 5.39), (4.89, 5.35),
    (5.60, 5.35), (5.19, 5.31), (5.30, 5.27), (6.20, 5.27), (4.20, 5.22), (4.10, 5.18), (2.19, 5.18),
    (4.39, 5.18), (4.80, 5.14), (3.80, 5.14), (6.70, 5.14), (1.80, 5.09), (3.00, 5.09), (5.09, 5.09),
    (2.19, 5.05), (2.59, 5.05), (2.90, 5.05), (3.40, 5.05), (4.70, 5.00), (3.00, 5.00), (7.50, 5.00),
    (7.60, 5.00), (3.60, 4.96), (4.00, 4.96), (6.10, 4.96), (5.70, 4.96), (1.60, 4.92), (2.50, 4.92),
    (3.10, 4.92), (5.09, 4.92), (7.00, 4.92), (1.20, 4.87), (1.40, 4.87), (2.09, 4.87), (2.19, 4.87),
    (3.30, 4.87), (4.30, 4.87), (5.50, 4.87), (5.70, 4.87), (6.20, 4.87), (3.00, 4.83), (3.80, 4.83),
    (5.50, 4.83), (1.99, 4.79), (4.30, 4.79), (4.50, 4.79), (6.20, 4.79), (8.01, 4.79), (5.00, 4.75),
    (2.29, 4.70), (2.39, 4.70), (5.40, 4.70), (5.80, 4.70), (5.99, 4.65), (6.40, 4.70), (7.60, 4.65),
    (8.01, 4.65), (5.00, 4.65), (5.19, 4.65), (5.60, 4.65), (6.70, 4.65), (3.40, 4.65), (3.19, 4.70),
    (4.10, 4.65), (5.19, 4.61), (6.30, 4.61), (8.60, 4.61), (3.40, 4.61), (4.20, 4.57), (1.30, 4.53),
    (1.50, 4.53), (1.80, 4.53), (4.70, 4.53), (5.60, 4.53), (3.09, 4.57), (4.30, 4.48), (1.19, 4.44),
    (2.29, 4.44), (3.09, 4.44), (3.40, 4.44), (4.39, 4.44), (5.19, 4.44), (7.40, 4.44), (3.70, 4.39),
    (4.20, 4.39), (4.60, 4.39), (4.70, 4.39), (1.40, 4.39), (1.80, 4.39), (2.09, 4.39), (3.19, 4.35),
    (3.50, 4.35), (4.89, 4.35), (5.80, 4.30), (5.60, 4.35), (1.30, 4.22), (1.50, 4.22), (1.89, 4.22),
    (2.19, 4.22), (2.29, 4.22), (2.70, 4.22), (3.80, 4.26), (6.50, 4.26), (7.70, 4.26), (4.70, 4.22),
    (4.89, 4.22), (5.40, 4.22), (5.80, 4.22), (7.30, 4.22), (4.50, 4.18), (5.19, 4.18), (2.39, 4.18),
    (1.00, 4.14), (1.60, 4.14), (1.89, 4.14), (2.09, 4.14), (4.00, 4.14), (5.00, 4.14), (5.70, 4.14),
    (8.11, 4.14), (4.30, 4.14), (1.40, 4.09), (1.70, 4.09), (2.29, 4.09), (4.70, 4.09), (7.30, 4.09),
    (7.40, 4.05), (3.89, 4.05), (3.60, 4.05), (1.99, 4.05), (1.60, 4.01), (1.20, 4.01), (2.59, 4.01),
    (2.80, 4.01), (3.00, 4.01), (3.40, 4.01), (4.00, 4.01), (4.20, 4.01), (5.60, 4.01), (5.70, 4.01),
    (5.80, 4.01), (7.00, 4.01), (1.50, 3.96), (1.99, 3.96), (2.39, 3.96), (3.30, 3.96), (3.60, 3.96),
    (4.39, 3.96), (5.00, 3.96), (5.09, 3.96), (5.40, 3.92), (5.99, 3.96), (6.40, 3.96), (6.50, 3.96),
    (6.70, 3.96), (1.10, 3.92), (1.70, 3.92), (2.19, 3.92), (3.89, 3.92), (4.60, 3.92), (5.19, 3.92),
    (5.80, 3.92), (1.00, 3.87), (1.30, 3.87), (1.60, 3.87), (1.99, 3.87), (2.49, 3.87), (2.70, 3.87),
    (3.40, 3.87), (3.80, 3.87), (4.20, 3.87), (4.60, 3.87), (4.80, 3.87), (5.30, 3.87), (7.30, 3.87),
    (1.80, 3.83), (2.09, 3.83), (2.39, 3.83), (2.59, 3.83), (3.70, 3.83), (4.39, 3.83), (1.20, 3.78),
    (1.40, 3.78), (2.19, 3.78), (2.80, 3.78), (2.90, 3.78), (3.40, 3.78), (5.40, 3.78), (5.80, 3.78),
    (1.00, 3.74), (1.10, 3.74), (1.50, 3.74), (1.99, 3.74), (2.29, 3.74), (3.09, 3.74), (3.40, 3.74),
    (5.60, 3.74), (1.80, 3.74), (5.10, 3.74), (4.39, 3.70), (4.70, 3.70), (2.09, 3.70), (2.39, 3.70),
    (3.60, 3.70), (7.20, 3.70), (3.30, 3.65), (3.40, 3.65), (1.99, 3.65), (2.49, 3.65), (5.60, 3.65),
    (1.00, 3.61), (1.20, 3.61), (1.40, 3.61), (1.60, 3.61), (2.19, 3.61), (2.39, 3.61), (3.00, 3.56),
    (2.80, 3.56), (3.80, 3.61), (4.00, 3.61), (5.80, 3.61), (1.10, 3.56), (2.29, 3.56), (3.60, 3.56),
    (4.70, 3.56), (1.99, 3.52), (2.59, 3.52), (2.39, 3.52), (1.60, 3.43), (1.40, 3.48), (2.29, 3.48),
    (3.80, 3.48), (5.00, 3.48), (6.40, 3.48), (2.59, 3.43), (5.60, 3.43), (1.10, 3.39), (3.09, 3.39),
    (3.60, 3.39), (4.80, 3.39), (4.89, 3.39), (5.60, 3.39), (1.89, 3.35), (4.70, 3.31), (4.89, 3.31),
    (4.60, 3.26), (5.30, 3.26), (7.00, 3.26), (2.39, 3.22), (2.70, 3.19), (2.70, 3.17), (2.59, 3.13),
    (1.00, 3.13), (4.00, 3.09), (3.30, 3.00), (3.89, 2.96), (4.70, 2.96), (7.40, 2.82), (4.60, 2.70),
    (2.50, 2.52), (3.30, 2.52), (8.90, 4.31),
]

panels = [human_bio, nonhuman_bio, food_water, public_spaces, environmental, conspiracy]
beta_pos = [(1.20, 4.20), (1.26, 4.29), (1.23, 4.16), (1.24, 4.27), (1.26, 4.27), (1.26, 4.33)]
beta_rot = [4, 3, 6, 4, 5, 6]
stat_pos = [(1.19, 1.26), (1.30, 1.35), (1.17, 1.28), (1.20, 1.40), (1.23, 1.40), (1.38, 1.37)]

sns.set_style("ticks")
plt.rcParams['font.family'] = ['Lato', 'DejaVu Sans']
plt.rcParams['mathtext.fontset'] = 'custom'
plt.rcParams['mathtext.rm'] = 'Lato'
plt.rcParams['mathtext.it'] = 'Lato:italic'

dot_color = "#7A263A"
line_color = "#76293D"
tick_color = "#595959"

fig = plt.figure(figsize=(20.14, 11.995), dpi=200)
lefts = [0.039, 0.3853, 0.7321]
bottoms = [0.5427, 0.0383]
w, h = 0.2709, 0.3845

for i, pts in enumerate(panels):
    row, col = divmod(i, 3)
    ax = fig.add_axes([lefts[col], bottoms[row], w, h])
    df = pd.DataFrame(pts, columns=["x", "y"])
    sns.scatterplot(data=df, x="x", y="y", ax=ax, color=dot_color, alpha=0.72,
                    s=50, edgecolor="none", clip_on=False, zorder=2)
    ln = pd.DataFrame({"x": [1, 9], "y": [line_y1[i], line_y9[i]]})
    sns.lineplot(data=ln, x="x", y="y", ax=ax, color=line_color, linewidth=4.7,
                 solid_capstyle="butt", clip_on=False, zorder=3)

    ax.set_xlim(1, 9)
    ax.set_ylim(1, 7)
    ax.set_xticks([1, 3, 5, 7, 9])
    ax.set_yticks([1, 2, 3, 4, 5, 6, 7])
    ax.set_xlabel("")
    ax.set_ylabel("")
    sns.despine(ax=ax)
    for sp in ["left", "bottom"]:
        ax.spines[sp].set_linewidth(2.2)
        ax.spines[sp].set_color("black")
    ax.tick_params(axis="x", length=7, width=2.2, pad=13, labelsize=22.5, labelcolor=tick_color)
    ax.tick_params(axis="y", length=5.5, width=2.2, pad=12, labelsize=22.5, labelcolor=tick_color)
    ax.set_title(titles[i], fontsize=34, pad=19, color="black")

    bx, by = beta_pos[i]
    ax.text(bx, by, betas[i], fontsize=19.5, rotation=beta_rot[i], rotation_mode="anchor",
            ha="left", va="center", zorder=4,
            bbox=dict(facecolor="white", alpha=0.65, edgecolor="none", pad=1.5))
    sx, sy = stat_pos[i]
    ax.text(sx, sy, stats[i], fontsize=19.5, ha="left", va="center", zorder=4, clip_on=False,
            bbox=dict(facecolor="white", alpha=0.65, edgecolor="none", pad=1.5))

plt.savefig("out.png", dpi=200)
